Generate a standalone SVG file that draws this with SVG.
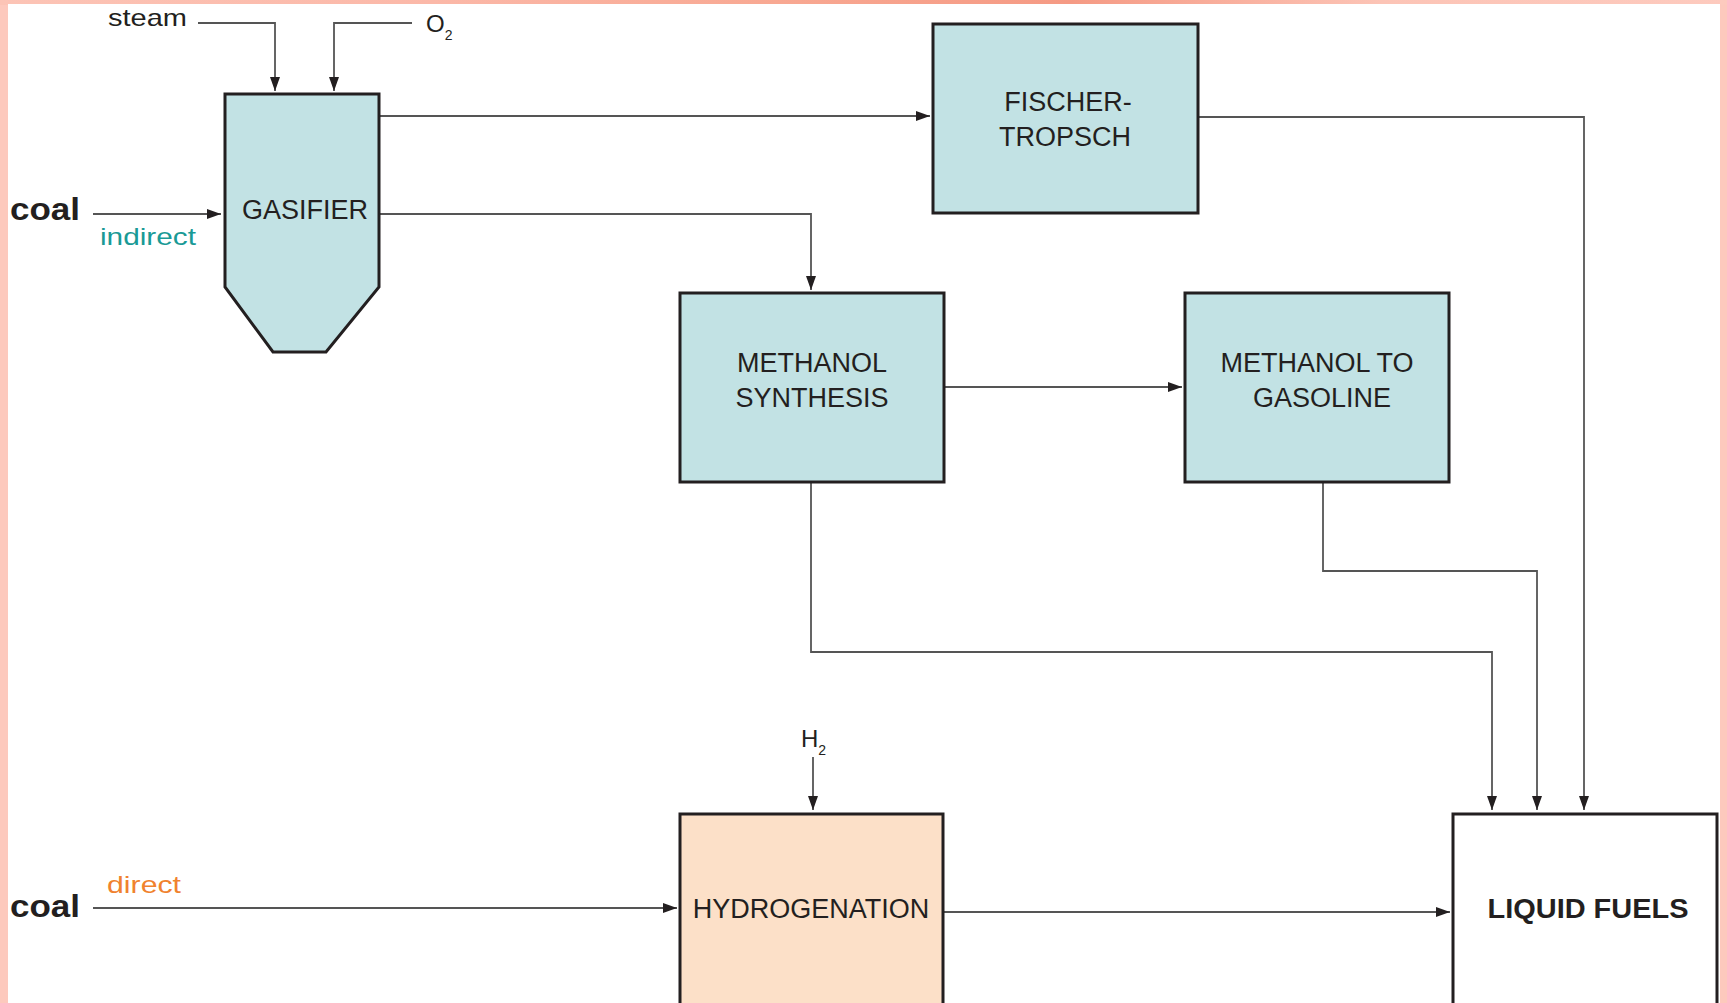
<svg xmlns="http://www.w3.org/2000/svg" width="1727" height="1003" viewBox="0 0 1727 1003">
<defs>
<linearGradient id="topg" x1="0" y1="0" x2="1" y2="0">
<stop offset="0" stop-color="#fcc4b6"/>
<stop offset="0.25" stop-color="#fbb8a8"/>
<stop offset="0.45" stop-color="#f8a892"/>
<stop offset="0.62" stop-color="#f59a84"/>
<stop offset="0.8" stop-color="#fcc4b6"/>
<stop offset="1" stop-color="#fdcabe"/>
</linearGradient>
<marker id="ah" viewBox="0 0 14 10" refX="14" refY="5" markerWidth="14" markerHeight="10" markerUnits="userSpaceOnUse" orient="auto">
<path d="M0,0 L14,5 L0,10 Z" fill="#231f20"/>
</marker>
<style>
.box{fill:#c2e2e4;stroke:#231f20;stroke-width:3}
.hyd{fill:#fce0c8;stroke:#231f20;stroke-width:3}
.lf{fill:#ffffff;stroke:#231f20;stroke-width:3}
.lbl{font-family:"Liberation Sans",Arial,sans-serif;font-size:27px;fill:#231f20;text-anchor:middle}
.sm{font-family:"Liberation Sans",Arial,sans-serif;font-size:24px;fill:#231f20}
.coal{font-family:"Liberation Sans",Arial,sans-serif;font-size:31px;font-weight:bold;fill:#231f20}
.con{fill:none;stroke:#555555;stroke-width:1.8}
</style>
</defs>
<rect x="0" y="0" width="1727" height="1003" fill="#fdc9bd"/>
<rect x="0" y="0" width="1727" height="5" fill="url(#topg)"/>
<rect x="8" y="4" width="1712" height="999" fill="#ffffff"/>

<g id="connectors">
<polyline class="con" points="198,23 275,23 275,91" marker-end="url(#ah)"/>
<polyline class="con" points="412,23 334,23 334,91" marker-end="url(#ah)"/>
<polyline class="con" points="93,214 221,214" marker-end="url(#ah)"/>
<polyline class="con" points="380,116 930,116" marker-end="url(#ah)"/>
<polyline class="con" points="380,214 811,214 811,290" marker-end="url(#ah)"/>
<polyline class="con" points="944,387 1182,387" marker-end="url(#ah)"/>
<polyline class="con" points="1198,117 1584,117 1584,810" marker-end="url(#ah)"/>
<polyline class="con" points="1323,482 1323,571 1537,571 1537,810" marker-end="url(#ah)"/>
<polyline class="con" points="811,482 811,652 1492,652 1492,810" marker-end="url(#ah)"/>
<polyline class="con" points="813,757 813,810" marker-end="url(#ah)"/>
<polyline class="con" points="93,908 677,908" marker-end="url(#ah)"/>
<polyline class="con" points="943,912 1450,912" marker-end="url(#ah)"/>
</g>

<g id="gasifier">
<polygon class="box" points="225,94 379,94 379,287 326,352 273,352 225,287"/>
<text class="lbl" x="305" y="219">GASIFIER</text>
</g>
<g id="fischer-tropsch">
<rect class="box" x="933" y="24" width="265" height="189"/>
<text class="lbl" x="1068" y="111">FISCHER-</text>
<text class="lbl" x="1065" y="146">TROPSCH</text>
</g>
<g id="methanol-synthesis">
<rect class="box" x="680" y="293" width="264" height="189"/>
<text class="lbl" x="812" y="372">METHANOL</text>
<text class="lbl" x="812" y="407">SYNTHESIS</text>
</g>
<g id="methanol-to-gasoline">
<rect class="box" x="1185" y="293" width="264" height="189"/>
<text class="lbl" x="1317" y="372">METHANOL TO</text>
<text class="lbl" x="1322" y="407">GASOLINE</text>
</g>
<g id="hydrogenation">
<rect class="hyd" x="680" y="814" width="263" height="200"/>
<text class="lbl" x="811" y="918">HYDROGENATION</text>
</g>
<g id="liquid-fuels">
<rect class="lf" x="1453" y="814" width="264" height="200"/>
<text class="lbl" x="1588" y="918" font-weight="bold" textLength="201" lengthAdjust="spacingAndGlyphs">LIQUID FUELS</text>
</g>

<g id="inputs">
<text class="sm" x="108" y="26" textLength="79" lengthAdjust="spacingAndGlyphs">steam</text>
<text class="sm" x="426" y="32">O<tspan font-size="14" dy="8">2</tspan></text>
<text class="coal" x="10" y="220" textLength="70" lengthAdjust="spacingAndGlyphs">coal</text>
<text class="sm" x="100" y="245" style="fill:#1a9a96" textLength="96" lengthAdjust="spacingAndGlyphs">indirect</text>
<text class="sm" x="801" y="747">H<tspan font-size="14" dy="8">2</tspan></text>
<text class="coal" x="10" y="917" textLength="70" lengthAdjust="spacingAndGlyphs">coal</text>
<text class="sm" x="107" y="893" style="fill:#f0822e" textLength="74" lengthAdjust="spacingAndGlyphs">direct</text>
</g>
</svg>
